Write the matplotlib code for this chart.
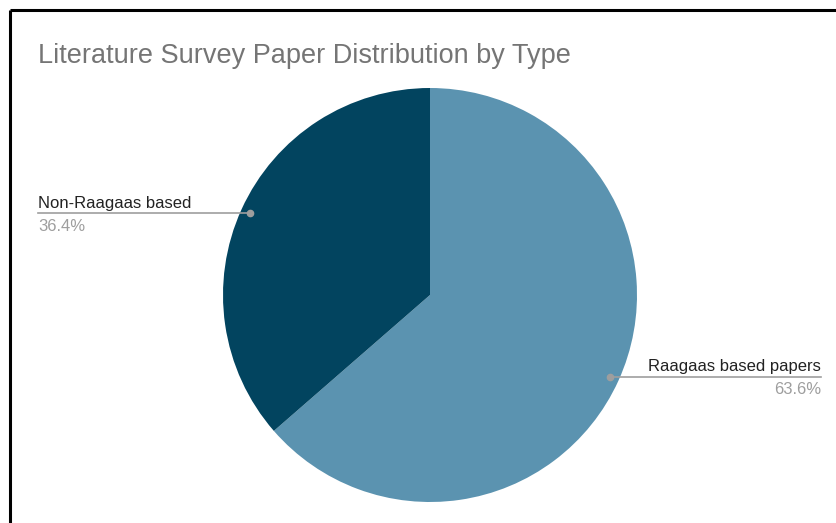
import numpy as np
import matplotlib
matplotlib.use('Agg')
import matplotlib.pyplot as plt

labels = ['Raagaas based papers', 'Non-Raagaas based']
shares = [63.6, 36.4]
colors = ['#5b93b0', '#02445f']
title = 'Literature Survey Paper Distribution by Type'

W, H = 837, 523
cx, cy, R = 430, 295, 207


def main():
    plt.rcParams['font.family'] = ['Liberation Sans', 'DejaVu Sans']
    fig = plt.figure(figsize=(W / 100, H / 100), dpi=100)

    ax = fig.add_axes([(cx - R) / W, (H - cy - R) / H, 2 * R / W, 2 * R / H])
    wedges, _ = ax.pie(shares, colors=colors, startangle=90, counterclock=False,
                       radius=1, wedgeprops=dict(linewidth=0))
    ax.set_xlim(-1, 1)
    ax.set_ylim(-1, 1)
    ax.set_aspect('equal')

    # overlay in pixel coordinates for border, title and labels (on top of pie)
    over = fig.add_axes([0, 0, 1, 1], zorder=5)
    over.set_xlim(0, W)
    over.set_ylim(H, 0)
    over.axis('off')

    # black border on top and left
    over.plot([10, W], [10, 10], color='black', lw=2.2, solid_capstyle='butt')
    over.plot([10, 10], [10, H], color='black', lw=2.2, solid_capstyle='butt')

    over.text(38, 63, title, fontsize=19.5, color='#757575', va='baseline', ha='left')

    for w, lab, val in zip(wedges, labels, shares):
        mid = np.deg2rad((w.theta1 + w.theta2) / 2)
        px = cx + R * 0.955 * np.cos(mid)
        py = cy - R * 0.955 * np.sin(mid)
        if np.cos(mid) < 0:
            x_end, ha = 38, 'left'
        else:
            x_end, ha = 821, 'right'
        over.plot([px, x_end], [py, py], color='#9e9e9e', lw=1.2)
        over.plot([px], [py], 'o', color='#9e9e9e', ms=4.5)
        over.text(x_end, py - 5.5, lab, fontsize=12, color='#222222', ha=ha, va='baseline')
        over.text(x_end, py + 17.5, '%.1f%%' % val, fontsize=12, color='#9e9e9e', ha=ha, va='baseline')

    fig.savefig('out.png', dpi=100, facecolor='white')


if __name__ == '__main__':
    main()
